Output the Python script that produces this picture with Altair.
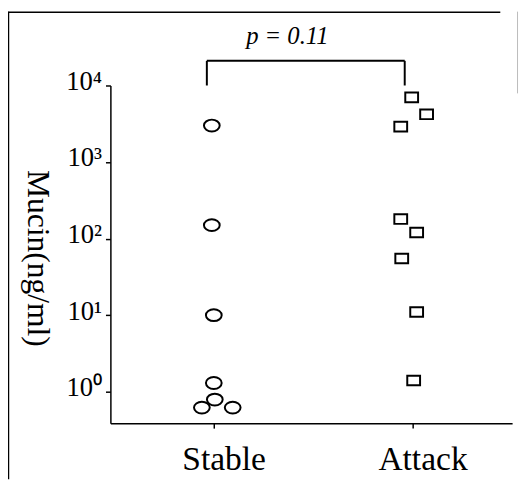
import altair as alt
import pandas as pd

# ---- data ----
groups = ["Stable", "Attack"]
group_pos = [1, 2]

stable_values = [3000, 150, 10, 1.3, 0.79, 0.62, 0.62]
stable_jitter = [-0.01, -0.01, 0.0, 0.0, 0.005, -0.06, 0.095]

attack_values = [7000, 4200, 2900, 180, 120, 55, 11, 1.4]
attack_jitter = [-0.005, 0.07, -0.06, -0.06, 0.02, -0.055, 0.02, 0.005]

y_ticks = [1, 10, 100, 1000, 10000]
p_label = "p = 0.11"
bracket_x = [0.965, 1.96]
bracket_y = [10000, 21000]

stable_df = pd.DataFrame({
    "pos": [group_pos[0] + j for j in stable_jitter],
    "mucin": stable_values,
})
attack_df = pd.DataFrame({
    "pos": [group_pos[1] + j for j in attack_jitter],
    "mucin": attack_values,
})

x_scale = alt.Scale(domain=[0.48, 2.5], nice=False, zero=False)
y_scale = alt.Scale(type="log", domain=[0.388, 10000], nice=False)

label_expr_x = "datum.value == 1 ? 'Stable' : (datum.value == 2 ? 'Attack' : '')"
label_expr_y = "['10⁰','10¹','10²','10³','10⁴'][round(log(datum.value)/LN10)]"

x_axis = alt.Axis(values=group_pos, labelExpr=label_expr_x, labelFontSize=34,
                  labelFont="Liberation Serif", labelPadding=15, tickSize=5,
                  labelFlush=False, labelOverlap=False, labelOffset=10)
y_axis = alt.Axis(values=y_ticks, labelExpr=label_expr_y, labelFontSize=27,
                  labelFont="Liberation Serif", labelOffset=-4, tickSize=5,
                  labelPadding=4, titleAngle=90, titleFontSize=32,
                  titleFontWeight="normal", titleFont="Liberation Serif",
                  titleX=-74, titleY=175, titleBaseline="middle")


def X(field="pos"):
    return alt.X(f"{field}:Q", scale=x_scale, title=None, axis=x_axis)


def Y(field="mucin"):
    return alt.Y(f"{field}:Q", scale=y_scale, title="Mucin(ng/ml)", axis=y_axis)


ellipse = "M-1,0A1,0.75,0,1,1,1,0A1,0.75,0,1,1,-1,0Z"
rect = "M-1,-0.75L1,-0.75L1,0.75L-1,0.75Z"

stable = alt.Chart(stable_df).mark_point(
    shape=ellipse, size=256, filled=False, color="black", strokeWidth=2, opacity=1
).encode(x=X(), y=Y())

attack = alt.Chart(attack_df).mark_point(
    shape=rect, size=169, filled=False, color="black", strokeWidth=2, opacity=1
).encode(x=X(), y=Y())

br_df = pd.DataFrame({"pos": [bracket_x[0], bracket_x[0], bracket_x[1]],
                      "pos2": [bracket_x[1], bracket_x[0], bracket_x[1]],
                      "mucin": [bracket_y[1], bracket_y[0], bracket_y[0]],
                      "mucin2": [bracket_y[1], bracket_y[1], bracket_y[1]]})
bracket = alt.Chart(br_df).mark_rule(color="black", strokeWidth=2).encode(
    x=X(), x2="pos2:Q", y=Y(), y2="mucin2:Q",
)

ptext = alt.Chart(pd.DataFrame({"pos": [1.37], "mucin": [44000], "t": [p_label]})).mark_text(
    font="Liberation Serif", fontStyle="italic", fontSize=25, color="black"
).encode(x=X(), y=Y(), text="t:N")

# scanned-page frame lines (decoration)
frame_left = alt.Chart(pd.DataFrame({"a": [0]})).mark_rule(color="black", strokeWidth=1.5).encode(
    x=alt.value(-103.5), y=alt.value(-75), y2=alt.value(400))
frame_top = alt.Chart(pd.DataFrame({"a": [0]})).mark_rule(color="black", strokeWidth=1.5).encode(
    x=alt.value(-104), x2=alt.value(396), y=alt.value(-74.5))
frame_right = alt.Chart(pd.DataFrame({"a": [0]})).mark_rule(color="#bbbbbb", strokeWidth=1).encode(
    x=alt.value(413.5), y=alt.value(-75), y2=alt.value(8))

chart = alt.layer(stable, attack, bracket, ptext, frame_left, frame_top, frame_right).properties(
    width=408, height=343,
    autosize=alt.AutoSizeParams(type="none"),
    padding={"left": 104, "top": 75, "right": 7, "bottom": 55},
).configure_view(stroke=None).configure_axis(
    domainColor="black", domainWidth=1.5, tickColor="black", tickWidth=1.5,
    grid=False, labelFont="Liberation Serif", titleFont="Liberation Serif",
    labelColor="black", titleColor="black",
).configure_text(font="Liberation Serif")

chart.save("out.html", embed_options={"renderer": "svg", "actions": False})
